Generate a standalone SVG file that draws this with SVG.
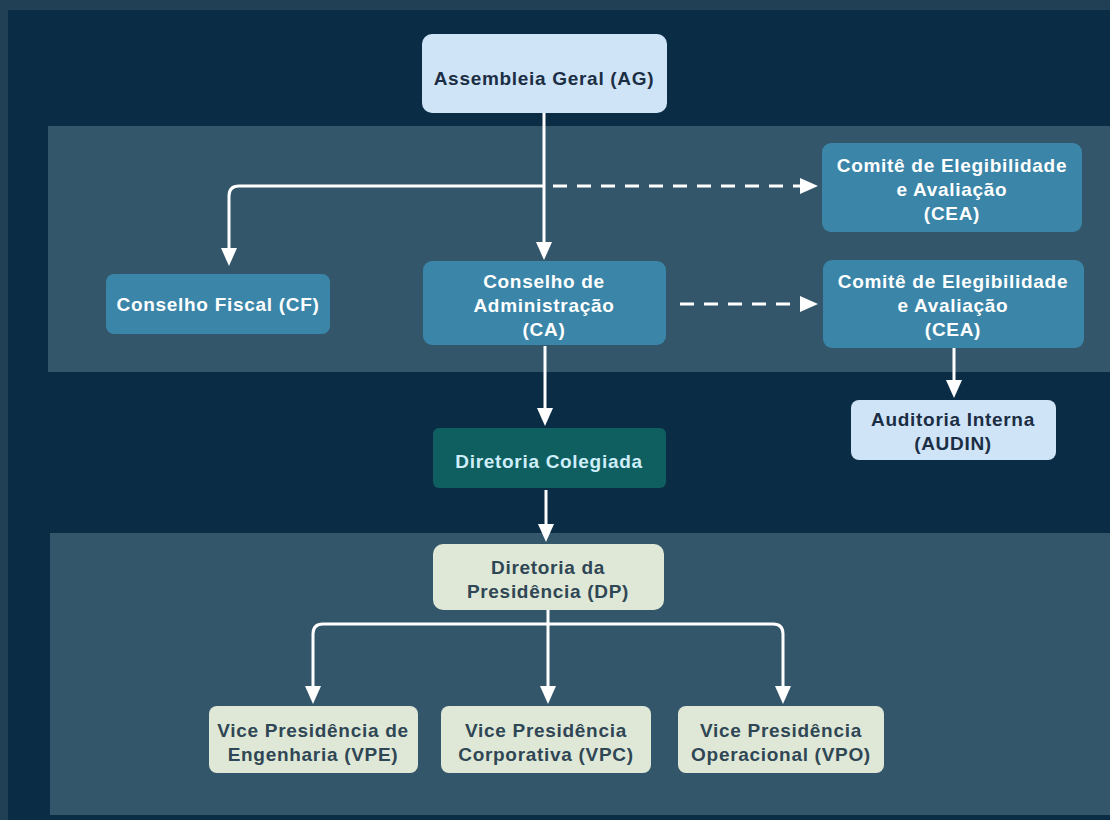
<svg xmlns="http://www.w3.org/2000/svg" width="1110" height="820" viewBox="0 0 1110 820">
<style>
.t{font-family:"Liberation Sans",Arial,sans-serif;font-weight:bold;font-size:19px;letter-spacing:0.7px;text-anchor:middle}
.w{fill:#ffffff}
.dk{fill:#1b2e44}
.sl{fill:#2f4655}
.lc{fill:#cdeefa}
.blue{fill:#3a85a8}
.light{fill:#d0e4f8}
.pale{fill:#dfe8d6}
.teal{fill:#0f5e60}
.band{fill:#33566a}
.ln{fill:none;stroke:#ffffff;stroke-width:3}
.dash{stroke-dasharray:14 10}
</style>
<defs>
<marker id="ah" viewBox="0 0 18 16" refX="4" refY="8" markerWidth="18" markerHeight="16" markerUnits="userSpaceOnUse" orient="auto">
<path d="M0,0 L18,8 L0,16 z" fill="#ffffff"/>
</marker>
</defs>
<rect x="0" y="0" width="1110" height="820" fill="#213f55"/>
<rect x="8" y="10" width="1102" height="810" fill="#0a2c45"/>
<rect class="band" x="48" y="126" width="1062" height="246"/>
<rect class="band" x="50" y="533" width="1060" height="282"/>

<g id="connectors">
<path class="ln" d="M544,113 V246" marker-end="url(#ah)"/>
<path class="ln" d="M544,186 H239 Q229,186 229,196 V252" marker-end="url(#ah)"/>
<path class="ln dash" d="M553,186 H804" marker-end="url(#ah)"/>
<path class="ln dash" d="M680,304 H804" marker-end="url(#ah)"/>
<path class="ln" d="M954,348 V384" marker-end="url(#ah)"/>
<path class="ln" d="M545,346 V412" marker-end="url(#ah)"/>
<path class="ln" d="M546,490 V528" marker-end="url(#ah)"/>
<path class="ln" d="M548,610 V690" marker-end="url(#ah)"/>
<path class="ln" d="M548,624 H323 Q313,624 313,634 V690" marker-end="url(#ah)"/>
<path class="ln" d="M548,624 H773 Q783,624 783,634 V690" marker-end="url(#ah)"/>
</g>

<g id="ag"><rect class="light" x="422" y="34" width="245" height="79" rx="10"/>
<text class="t dk" x="544" y="85">Assembleia Geral (AG)</text></g>

<g id="cea1"><rect class="blue" x="822" y="143" width="260" height="89" rx="9"/>
<text class="t w" x="952" y="172">Comitê de Elegibilidade</text>
<text class="t w" x="952" y="196">e Avaliação</text>
<text class="t w" x="952" y="220">(CEA)</text></g>

<g id="cf"><rect class="blue" x="106" y="274" width="224" height="60" rx="8"/>
<text class="t w" x="218" y="311">Conselho Fiscal (CF)</text></g>

<g id="ca"><rect class="blue" x="423" y="261" width="243" height="84" rx="9"/>
<text class="t w" x="544" y="288">Conselho de</text>
<text class="t w" x="544" y="312">Administração</text>
<text class="t w" x="544" y="336">(CA)</text></g>

<g id="cea2"><rect class="blue" x="823" y="260" width="261" height="88" rx="9"/>
<text class="t w" x="953" y="288">Comitê de Elegibilidade</text>
<text class="t w" x="953" y="312">e Avaliação</text>
<text class="t w" x="953" y="336">(CEA)</text></g>

<g id="audin"><rect class="light" x="851" y="400" width="205" height="60" rx="8"/>
<text class="t dk" x="953" y="426">Auditoria Interna</text>
<text class="t dk" x="953" y="450">(AUDIN)</text></g>

<g id="dc"><rect class="teal" x="433" y="428" width="233" height="60" rx="6"/>
<text class="t lc" x="549" y="468">Diretoria Colegiada</text></g>

<g id="dp"><rect class="pale" x="433" y="544" width="231" height="66" rx="10"/>
<text class="t sl" x="548" y="574">Diretoria da</text>
<text class="t sl" x="548" y="598">Presidência (DP)</text></g>

<g id="vpe"><rect class="pale" x="209" y="706" width="209" height="67" rx="8"/>
<text class="t sl" x="313" y="737">Vice Presidência de</text>
<text class="t sl" x="313" y="761">Engenharia (VPE)</text></g>

<g id="vpc"><rect class="pale" x="441" y="706" width="210" height="67" rx="8"/>
<text class="t sl" x="546" y="737">Vice Presidência</text>
<text class="t sl" x="546" y="761">Corporativa (VPC)</text></g>

<g id="vpo"><rect class="pale" x="678" y="706" width="206" height="67" rx="8"/>
<text class="t sl" x="781" y="737">Vice Presidência</text>
<text class="t sl" x="781" y="761">Operacional (VPO)</text></g>
</svg>
